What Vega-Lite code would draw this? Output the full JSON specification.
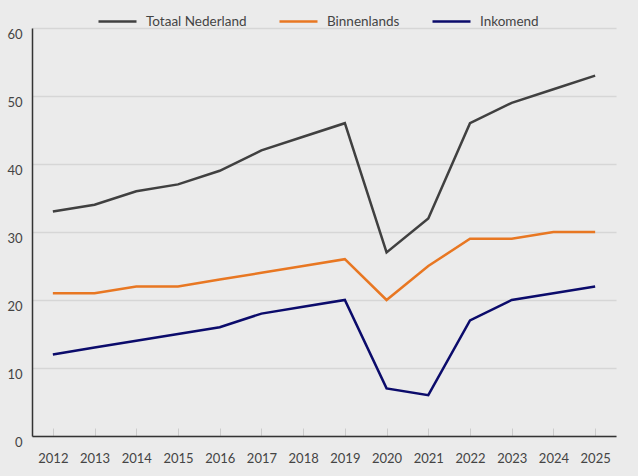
{
  "$schema": "https://vega.github.io/schema/vega-lite/v6.json",
  "width": 584,
  "height": 408,
  "autosize": {"type": "none"},
  "padding": {"left": 32, "top": 28, "right": 22, "bottom": 40},
  "background": "#ebebeb",
  "config": {
    "view": {"stroke": null},
    "font": "Lato",
    "axis": {"labelFont": "Lato", "labelFontSize": 13, "labelColor": "#444444"}
  },
  "data": {
    "values": [
      {"jaar": "2012", "serie": "Totaal Nederland", "waarde": 33},
      {"jaar": "2013", "serie": "Totaal Nederland", "waarde": 34},
      {"jaar": "2014", "serie": "Totaal Nederland", "waarde": 36},
      {"jaar": "2015", "serie": "Totaal Nederland", "waarde": 37},
      {"jaar": "2016", "serie": "Totaal Nederland", "waarde": 39},
      {"jaar": "2017", "serie": "Totaal Nederland", "waarde": 42},
      {"jaar": "2018", "serie": "Totaal Nederland", "waarde": 44},
      {"jaar": "2019", "serie": "Totaal Nederland", "waarde": 46},
      {"jaar": "2020", "serie": "Totaal Nederland", "waarde": 27},
      {"jaar": "2021", "serie": "Totaal Nederland", "waarde": 32},
      {"jaar": "2022", "serie": "Totaal Nederland", "waarde": 46},
      {"jaar": "2023", "serie": "Totaal Nederland", "waarde": 49},
      {"jaar": "2024", "serie": "Totaal Nederland", "waarde": 51},
      {"jaar": "2025", "serie": "Totaal Nederland", "waarde": 53},
      {"jaar": "2012", "serie": "Binnenlands", "waarde": 21},
      {"jaar": "2013", "serie": "Binnenlands", "waarde": 21},
      {"jaar": "2014", "serie": "Binnenlands", "waarde": 22},
      {"jaar": "2015", "serie": "Binnenlands", "waarde": 22},
      {"jaar": "2016", "serie": "Binnenlands", "waarde": 23},
      {"jaar": "2017", "serie": "Binnenlands", "waarde": 24},
      {"jaar": "2018", "serie": "Binnenlands", "waarde": 25},
      {"jaar": "2019", "serie": "Binnenlands", "waarde": 26},
      {"jaar": "2020", "serie": "Binnenlands", "waarde": 20},
      {"jaar": "2021", "serie": "Binnenlands", "waarde": 25},
      {"jaar": "2022", "serie": "Binnenlands", "waarde": 29},
      {"jaar": "2023", "serie": "Binnenlands", "waarde": 29},
      {"jaar": "2024", "serie": "Binnenlands", "waarde": 30},
      {"jaar": "2025", "serie": "Binnenlands", "waarde": 30},
      {"jaar": "2012", "serie": "Inkomend", "waarde": 12},
      {"jaar": "2013", "serie": "Inkomend", "waarde": 13},
      {"jaar": "2014", "serie": "Inkomend", "waarde": 14},
      {"jaar": "2015", "serie": "Inkomend", "waarde": 15},
      {"jaar": "2016", "serie": "Inkomend", "waarde": 16},
      {"jaar": "2017", "serie": "Inkomend", "waarde": 18},
      {"jaar": "2018", "serie": "Inkomend", "waarde": 19},
      {"jaar": "2019", "serie": "Inkomend", "waarde": 20},
      {"jaar": "2020", "serie": "Inkomend", "waarde": 7},
      {"jaar": "2021", "serie": "Inkomend", "waarde": 6},
      {"jaar": "2022", "serie": "Inkomend", "waarde": 17},
      {"jaar": "2023", "serie": "Inkomend", "waarde": 20},
      {"jaar": "2024", "serie": "Inkomend", "waarde": 21},
      {"jaar": "2025", "serie": "Inkomend", "waarde": 22}
    ]
  },
  "mark": {"type": "line", "strokeWidth": 2.5},
  "encoding": {
    "x": {
      "field": "jaar",
      "type": "ordinal",
      "scale": {"type": "point", "padding": 0.5},
      "axis": {
        "title": null,
        "labelAngle": 0,
        "domain": true,
        "domainColor": "#333333",
        "domainWidth": 1.5,
        "ticks": true,
        "tickColor": "#cccccc",
        "tickSize": -8,
        "tickWidth": 1,
        "labelPadding": 24,
        "grid": false
      }
    },
    "y": {
      "field": "waarde",
      "type": "quantitative",
      "scale": {"domain": [0, 60]},
      "axis": {
        "title": null,
        "values": [0, 10, 20, 30, 40, 50, 60],
        "domain": true,
        "domainColor": "#333333",
        "domainWidth": 1.5,
        "ticks": false,
        "grid": true,
        "gridColor": "#d6d6d6",
        "gridWidth": 1.5,
        "labelPadding": 10,
        "labelBaseline": "top",
        "labelFlush": false,
        "labelOverlap": false
      }
    },
    "color": {
      "field": "serie",
      "type": "nominal",
      "sort": ["Totaal Nederland", "Binnenlands", "Inkomend"],
      "scale": {
        "domain": ["Totaal Nederland", "Binnenlands", "Inkomend"],
        "range": ["#404040", "#e87722", "#0b0b6b"]
      },
      "legend": {
        "title": null,
        "orient": "none",
        "direction": "horizontal",
        "legendX": 65,
        "legendY": -27,
        "symbolType": "stroke",
        "symbolSize": 1444,
        "symbolStrokeWidth": 2.5,
        "labelFontSize": 13.5,
        "labelFont": "Lato",
        "labelColor": "#444444",
        "labelOffset": 8,
        "columnPadding": 27
      }
    }
  }
}
